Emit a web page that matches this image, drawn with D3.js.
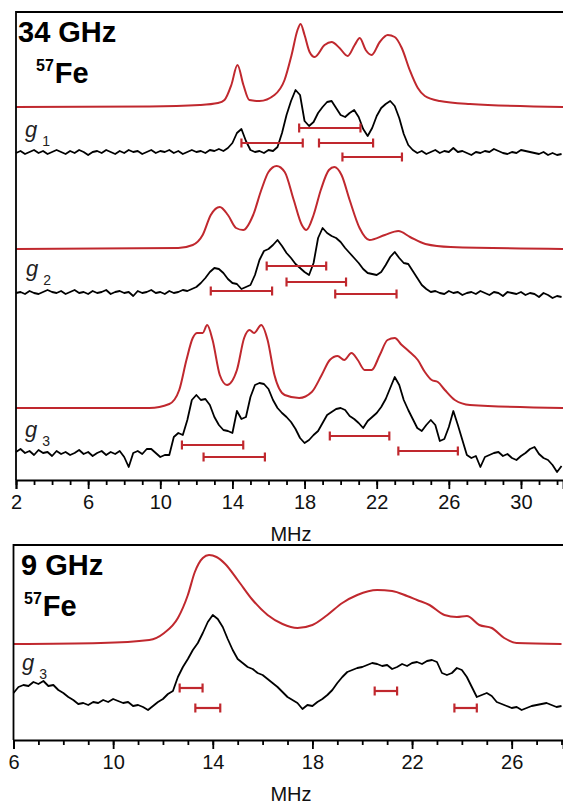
<!DOCTYPE html>
<html>
<head>
<meta charset="utf-8">
<script src="https://cdn.jsdelivr.net/npm/d3@7"></script>
<style>
  body { margin: 0; background: #fff; }
  svg { display: block; font-family: "Liberation Sans", Arial, Helvetica, sans-serif; }
</style>
</head>
<body>
<div id="chart"></div>
<script>
// ---- data (MHz vs intensity, arbitrary units) ----

// 34 GHz simulations: [MHz, height]
var sim34g1 = [[2, 0], [9.4, 0.5], [12.2, 2], [13.2, 4], [13.56, 7], [13.94, 22], [14.28, 42], [14.61, 22], [14.94, 7], [15.5, 6],
    [16.33, 12], [16.89, 27], [17.28, 52], [17.61, 77], [17.78, 83], [18.0, 72], [18.28, 55], [18.56, 50], [19.11, 62], [19.5, 65],
    [19.94, 59], [20.39, 51], [20.78, 62], [21.06, 69], [21.39, 57], [21.72, 52], [22.17, 65], [22.61, 72], [23.0, 70], [23.39, 59],
    [23.83, 37], [24.28, 19], [24.67, 11], [25.5, 6], [27.17, 3], [32.4, 0]];

var sim34g2 = [[2, 0], [11.0, 1], [11.8, 4], [12.35, 14], [12.8, 34], [13.3, 42], [13.75, 34], [14.2, 21], [14.6, 19], [15.15, 34],
    [15.6, 59], [16.0, 77], [16.45, 83], [16.9, 77], [17.4, 49], [17.85, 24], [18.1, 19], [18.5, 34], [18.9, 59], [19.35, 79],
    [19.65, 82], [20.05, 74], [20.5, 49], [21.05, 21], [21.6, 9], [22.45, 14], [23.2, 18], [23.85, 12], [24.7, 5], [26.1, 2], [32.4, 0]];

var sim34g3 = [[2, 0], [9.4, 0], [10.5, 4], [11.05, 18], [11.45, 48], [11.8, 70], [12.05, 75], [12.35, 75], [12.6, 83], [12.9, 68],
    [13.3, 33], [13.7, 23], [14.25, 38], [14.65, 70], [14.95, 78], [15.2, 75], [15.6, 83], [15.95, 68], [16.33, 33], [16.9, 13],
    [17.7, 10], [18.4, 16], [18.95, 33], [19.4, 48], [19.83, 52], [20.2, 48], [20.6, 55], [20.95, 48], [21.33, 38], [21.72, 38],
    [22.17, 53], [22.6, 68], [23.0, 70], [23.39, 63], [23.83, 56], [24.28, 48], [24.67, 36], [25.05, 28], [25.39, 26], [25.78, 18],
    [26.33, 8], [27.17, 3], [32.4, 0]];

// 34 GHz experimental traces, sampled every 0.25 MHz from 2 MHz
var exp34Start = 2, exp34Step = 0.25;
var exp34g1 = [0, 2, -1, 1, 3, 0, 2, -1, 1, 3, 1, -1, 2, 0, 3, 1, -2, 1, 2, 0,
    3, 1, -1, 2, 0, 3, 1, 2, -1, 1, 3, 0, 2, 1, 3, 0, 2, -1, 1, 3,
    1, 2, 0, 3, 2, 4, 2, 5, 10, 20, 24, 12, 3, 1, 2, 0, 3, 2, 6, 20,
    38, 52, 63, 58, 32, 27, 31, 40, 46, 51, 52, 45, 38, 36, 40, 43, 36, 24, 17, 25,
    37, 45, 49, 52, 47, 35, 19, 8, 3, 0, 2, -1, 1, 3, 0, 2, 1, 5, 1, 2,
    0, -2, 1, 0, 2, 1, 4, 2, 0, -1, 1, 0, 3, 2, 1, 0, -1, 1, -2, 0,
    -2, -1];
var exp34g2 = [0, 1, -1, 2, 0, -1, 1, 3, 1, 0, 2, -1, 1, 3, 0, 1, -1, 2, 0, 1,
    3, -1, 1, 2, 0, 1, -3, 2, 0, 1, 3, 0, 1, -1, 2, 0, 1, 3, 2, 4,
    6, 10, 15, 21, 25, 24, 20, 14, 10, 9, 4, 6, 8, 18, 33, 42, 44, 48, 53, 47,
    40, 35, 29, 25, 21, 18, 30, 55, 65, 60, 57, 55, 51, 45, 40, 35, 30, 24, 20, 19,
    18, 21, 28, 36, 41, 35, 30, 29, 22, 15, 8, 4, 1, 2, 0, -1, 2, 0, 1, -2,
    0, 1, -1, 2, 0, -2, 1, 0, -3, 1, 0, -1, 1, -2, 0, -1, -4, 0, -2, -5,
    -3, -4];
var exp34g3 = [3, 6, 2, 4, 0, 5, 2, 3, -1, 4, 1, 3, 0, 2, 5, 1, 3, -1, 2, 4,
    0, 3, 1, 4, -2, -12, 2, 4, 1, 6, 6, 2, -2, 0, 0, 18, 22, 20, 35, 55,
    60, 55, 56, 50, 38, 30, 25, 24, 22, 44, 36, 38, 58, 70, 72, 71, 66, 55, 47, 42,
    38, 33, 26, 17, 12, 15, 20, 24, 32, 40, 43, 46, 47, 45, 39, 36, 32, 27, 34, 38,
    42, 48, 56, 67, 78, 70, 55, 45, 36, 27, 24, 30, 35, 30, 14, 16, 28, 44, 30, 15,
    0, -3, -1, -12, -2, 0, 2, 3, -1, 1, -3, -5, -1, 2, 6, 8, 1, -3, -5, -10,
    -17, -11];

// 9 GHz simulation and experiment
var sim9g3 = [[6, 0], [9.5, 1], [11.45, 4], [12.05, 11], [12.6, 26], [13.0, 49], [13.28, 72], [13.6, 86], [13.85, 89], [14.15, 87], [14.5, 80],
    [15.0, 64], [15.6, 44], [16.2, 29], [16.8, 20], [17.4, 16], [18.0, 19], [18.6, 29], [19.2, 41], [19.8, 49], [20.6, 54],
    [21.2, 53], [21.8, 48], [22.2, 44], [22.7, 39], [23.3, 29], [23.8, 27], [24.2, 28], [24.7, 19], [25.2, 16], [25.7, 6],
    [26.2, 1], [28, 0]];
var exp9Start = 6, exp9Step = 0.2;
var exp9g3 = [12, 18, 20, 19, 23, 21, 24, 19, 20, 15, 12, 8, 5, 1, 2, 0, 3, 2, 5, 3,
    6, 4, 2, 3, -1, 0, -2, -5, -1, 3, 6, 11, 14, 28, 38, 46, 55, 62, 72, 83,
    90, 86, 78, 66, 55, 46, 42, 38, 36, 32, 30, 26, 22, 18, 13, 8, 5, 2, -4, 0,
    -1, 3, 6, 10, 15, 22, 28, 33, 35, 37, 38, 40, 42, 41, 39, 40, 36, 38, 41, 39,
    42, 43, 41, 44, 45, 43, 32, 30, 32, 37, 35, 28, 18, 8, 10, 12, 9, 3, 1, -1,
    -3, -2, -5, -3, -1, 0, 1, 2, 0, -2, -1];

// error bars: [from MHz, to MHz, level]
var bars34g1 = [[14.5, 17.9, 337], [17.7, 21.1, 352], [18.8, 21.8, 337], [20.1, 23.4, 323]];
var bars34g2 = [[15.9, 19.2, 214], [17.0, 20.3, 198], [12.8, 16.2, 189], [19.7, 23.1, 186]];
var bars34g3 = [[11.2, 14.6, 35], [12.4, 15.8, 23], [19.4, 22.7, 44], [23.2, 26.5, 29]];
var bars9g3 = [[12.67, 13.59, 52], [13.3, 14.3, 32], [20.5, 21.4, 49], [23.7, 24.6, 32]];

// baselines of stacked traces
var base34 = {sim1: 373, exp1: 327, sim2: 231, exp2: 187, sim3: 72, exp3: 25};
var base9 = {sim: 96, exp: 35};

var ticks34 = [2, 6, 10, 14, 18, 22, 26, 30];
var ticks9 = [6, 10, 14, 18, 22, 26];

// ---- drawing ----
var width = 563, height = 804;
var red = '#c0282e';

var svg = d3.select('#chart')
    .append('svg')
    .attr('width', width)
    .attr('height', height);

function expPoints(vals, start, step) {
    return vals.map(function (v, i) { return [start + i * step, v]; });
}

function panel(opt) {
    var g = svg.append('g');
    var x = d3.scaleLinear().domain(opt.xDomain).range([opt.left, width]);
    var y = d3.scaleLinear().domain([0, opt.bottom - opt.top]).range([opt.bottom, opt.top]);

    var line = function (base, curve) {
        return d3.line()
            .x(function (d) { return x(d[0]); })
            .y(function (d) { return y(base + d[1]); })
            .curve(curve);
    };

    opt.sims.forEach(function (s) {
        g.append('path')
            .attr('d', line(s.base, d3.curveMonotoneX)(s.data))
            .attr('fill', 'none')
            .attr('stroke', red)
            .attr('stroke-width', 2);
    });
    opt.exps.forEach(function (s) {
        g.append('path')
            .attr('d', line(s.base, d3.curveLinear)(s.data))
            .attr('fill', 'none')
            .attr('stroke', '#000')
            .attr('stroke-width', 1.8)
            .attr('stroke-linejoin', 'round');
    });

    opt.bars.forEach(function (b) {
        var bg = g.append('g')
            .attr('stroke', red)
            .attr('stroke-width', 2.2);
        bg.append('line')
            .attr('x1', x(b[0])).attr('x2', x(b[1]))
            .attr('y1', y(b[2])).attr('y2', y(b[2]));
        [b[0], b[1]].forEach(function (e) {
            bg.append('line')
                .attr('x1', x(e)).attr('x2', x(e))
                .attr('y1', y(b[2]) - 4.5).attr('y2', y(b[2]) + 4.5);
        });
    });

    // frame
    g.append('path')
        .attr('d', 'M' + width + ',' + opt.top + 'H' + opt.left + 'V' + opt.bottom)
        .attr('fill', 'none')
        .attr('stroke', '#000')
        .attr('stroke-width', 1.8);

    var axis = d3.axisBottom(x)
        .tickValues(opt.ticks)
        .tickSize(9)
        .tickPadding(6)
        .tickFormat(d3.format('d'));
    var minor = d3.axisBottom(x)
        .tickValues(d3.range(opt.xDomain[0], opt.xDomain[1] + 0.01, 1))
        .tickSize(5)
        .tickFormat('');

    var ax = g.append('g')
        .attr('transform', 'translate(0,' + opt.bottom + ')')
        .call(minor);
    ax.select('.domain').remove();
    ax.selectAll('line').attr('stroke-width', 1.8);

    var ax2 = g.append('g')
        .attr('transform', 'translate(0,' + opt.bottom + ')')
        .call(axis);
    ax2.select('.domain').attr('stroke-width', 1.8);
    ax2.selectAll('line').attr('stroke-width', 1.8);
    ax2.selectAll('text')
        .attr('font-size', 20)
        .attr('font-family', '"Liberation Sans", Arial, sans-serif')
        .attr('fill', '#111');

    g.append('text')
        .attr('x', opt.mhzX)
        .attr('y', opt.mhzY)
        .attr('text-anchor', 'middle')
        .attr('font-size', 20)
        .attr('fill', '#111')
        .text('MHz');

    // title
    g.append('text')
        .attr('x', opt.titleX)
        .attr('y', opt.top + 30)
        .attr('font-size', 29)
        .attr('font-weight', 'bold')
        .text(opt.title);
    var fe = g.append('text')
        .attr('x', opt.feX)
        .attr('y', opt.top + 71)
        .attr('font-size', 29)
        .attr('font-weight', 'bold');
    fe.append('tspan').attr('font-size', 16).attr('dy', -12).text('57');
    fe.append('tspan').attr('dy', 12).attr('dx', 1).text('Fe');

    opt.glabels.forEach(function (l) {
        var t = g.append('text')
            .attr('x', l.x)
            .attr('y', l.y)
            .attr('font-size', 22)
            .attr('fill', '#222');
        t.append('tspan').attr('font-style', 'italic').text('g');
        t.append('tspan').attr('font-size', 14).attr('dx', 5).attr('dy', 9).text(l.sub);
    });
    return {x: x, y: y};
}

panel({
    xDomain: [2, 32.33], left: 16, top: 12, bottom: 480,
    ticks: ticks34, mhzX: 291, mhzY: 541,
    title: '34 GHz', titleX: 18, feX: 36,
    sims: [
        {data: sim34g1, base: base34.sim1},
        {data: sim34g2, base: base34.sim2},
        {data: sim34g3, base: base34.sim3}
    ],
    exps: [
        {data: expPoints(exp34g1, exp34Start, exp34Step), base: base34.exp1},
        {data: expPoints(exp34g2, exp34Start, exp34Step), base: base34.exp2},
        {data: expPoints(exp34g3, exp34Start, exp34Step), base: base34.exp3}
    ],
    bars: bars34g1.concat(bars34g2, bars34g3),
    glabels: [
        {x: 25, y: 137, sub: '1'},
        {x: 26, y: 276, sub: '2'},
        {x: 25, y: 437, sub: '3'}
    ]
});

panel({
    xDomain: [6, 28.06], left: 13.5, top: 545, bottom: 740,
    ticks: ticks9, mhzX: 291, mhzY: 801,
    title: '9 GHz', titleX: 21, feX: 24,
    sims: [{data: sim9g3, base: base9.sim}],
    exps: [{data: expPoints(exp9g3, exp9Start, exp9Step), base: base9.exp}],
    bars: bars9g3,
    glabels: [{x: 22, y: 670, sub: '3'}]
});
</script>
</body>
</html>
